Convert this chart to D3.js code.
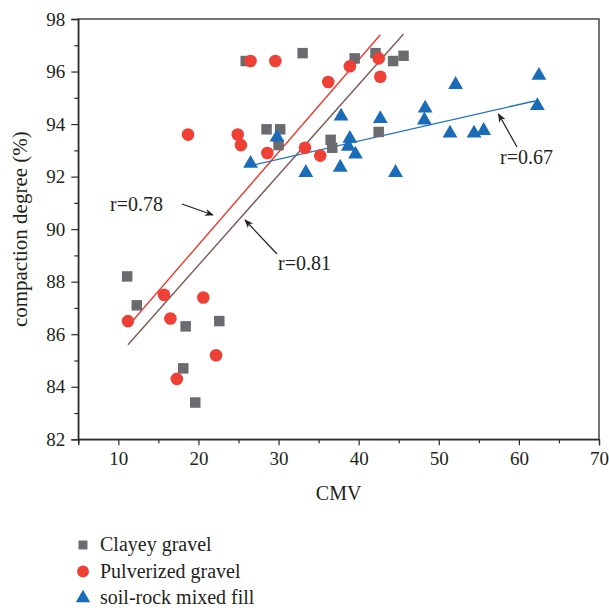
<!DOCTYPE html>
<html>
<head>
<meta charset="utf-8">
<script src="https://d3js.org/d3.v7.min.js"></script>
<style>
  html, body { margin: 0; padding: 0; background: #fff; }
  svg { display: block; font-family: "Liberation Serif", "Times New Roman", serif; }
</style>
</head>
<body>
<svg id="chart" width="609" height="610"></svg>
<script>
// ---- data ----
const seriesNames = ["Clayey gravel", "Pulverized gravel", "soil-rock mixed fill"];

const clayeyX = [11.1, 12.3, 18.4, 18.1, 19.6, 22.6, 25.9, 33.0, 28.5, 30.2, 30.0, 36.5, 36.7, 42.5, 39.5, 42.1, 44.3, 45.6];
const clayeyY = [88.2, 87.1, 86.3, 84.7, 83.4, 86.5, 96.4, 96.7, 93.8, 93.8, 93.2, 93.4, 93.1, 93.7, 96.5, 96.7, 96.4, 96.6];

const pulvX = [11.2, 15.7, 16.5, 20.6, 17.3, 22.2, 18.7, 24.9, 25.3, 28.6, 26.5, 29.6, 36.2, 38.9, 42.5, 42.7, 33.3, 35.2];
const pulvY = [86.5, 87.5, 86.6, 87.4, 84.3, 85.2, 93.6, 93.6, 93.2, 92.9, 96.4, 96.4, 95.6, 96.2, 96.5, 95.8, 93.1, 92.8];

const soilX = [26.5, 29.8, 33.4, 37.8, 37.7, 38.9, 38.7, 39.6, 42.7, 44.6, 48.3, 48.2, 52.1, 51.4, 54.4, 55.6, 62.5, 62.3];
const soilY = [92.5, 93.5, 92.15, 94.3, 92.35, 93.45, 93.15, 92.85, 94.2, 92.15, 94.6, 94.15, 95.5, 93.65, 93.65, 93.75, 95.85, 94.7];

// fitted lines (endpoints, data units)
const fitPulvX = [11.9, 42.7];
const fitPulvY = [86.55, 97.4];
const fitAllX = [11.2, 45.6];
const fitAllY = [85.6, 97.43];
const fitSoilX = [26.85, 62.0];
const fitSoilY = [92.44, 94.88];

const rLabels = ["r=0.78", "r=0.81", "r=0.67"];

const xTicks = [10, 20, 30, 40, 50, 60, 70];
const yTicks = [82, 84, 86, 88, 90, 92, 94, 96, 98];

// ---- layout ----
const svg = d3.select("#chart");
const L = 78.3, R = 599, T = 19, B = 439.3;
const x = d3.scaleLinear().domain([5, 70]).range([L, R]);
const y = d3.scaleLinear().domain([82, 98]).range([B, T]);

const axisColor = "#2b2b2b";
const fontSize = 19;

// frame
svg.append("rect").attr("x", L).attr("y", T).attr("width", R - L).attr("height", B - T)
  .attr("fill", "none").attr("stroke", axisColor).attr("stroke-width", 1.3);

// x axis
svg.append("g").attr("transform", `translate(0,${B})`)
  .call(d3.axisBottom(x).tickValues(xTicks).tickSize(6).tickPadding(6).tickFormat(d3.format("d")));
svg.append("g").attr("transform", `translate(0,${B})`)
  .call(d3.axisBottom(x).tickValues(d3.range(5, 70, 10)).tickSize(4).tickFormat(""))
  .call(g => g.select(".domain").remove());

// y axis
svg.append("g").attr("transform", `translate(${L},0)`)
  .call(d3.axisLeft(y).tickValues(yTicks).tickSize(7).tickPadding(6).tickFormat(d3.format("d")));
svg.append("g").attr("transform", `translate(${L},0)`)
  .call(d3.axisLeft(y).tickValues(d3.range(83, 98, 2)).tickSize(4).tickFormat(""))
  .call(g => g.select(".domain").remove());

svg.selectAll(".domain").attr("stroke", axisColor).attr("stroke-width", 1.3);
svg.selectAll(".tick line").attr("stroke", axisColor).attr("stroke-width", 1.2);
svg.selectAll(".tick text").attr("fill", "#231f20").style("font-size", fontSize + "px")
  .style("font-family", '"Liberation Serif", serif');

// axis titles
svg.append("text").attr("x", (L + R) / 2).attr("y", 500).attr("text-anchor", "middle")
  .attr("fill", "#231f20").style("font-size", "20px").text("CMV");
svg.append("text").attr("transform", `translate(27,${(T + B) / 2}) rotate(-90)`)
  .attr("text-anchor", "middle").attr("fill", "#231f20").style("font-size", "21px")
  .text("compaction degree (%)");

// fit lines
const lineGen = d3.line().x(d => x(d[0])).y(d => y(d[1]));
const fits = [
  { xs: fitPulvX, ys: fitPulvY, color: "#ec3b30" },
  { xs: fitAllX, ys: fitAllY, color: "#7b5a55" },
  { xs: fitSoilX, ys: fitSoilY, color: "#1f72c0" }
];
fits.forEach(f => {
  svg.append("path").datum(d3.zip(f.xs, f.ys)).attr("d", lineGen)
    .attr("fill", "none").attr("stroke", f.color).attr("stroke-width", 1.4);
});

// markers
const colors = ["#6b6b6f", "#ee4035", "#1a6cb7"];
const sq = d3.symbol().type(d3.symbolSquare).size(110);
const ci = d3.symbol().type(d3.symbolCircle).size(125);
const tr = d3.symbol().type(d3.symbolTriangle).size(95);

const groups = [
  { xs: clayeyX, ys: clayeyY, sym: sq, color: colors[0] },
  { xs: pulvX, ys: pulvY, sym: ci, color: colors[1] },
  { xs: soilX, ys: soilY, sym: tr, color: colors[2] }
];
groups.forEach(g => {
  svg.append("g").selectAll("path").data(d3.zip(g.xs, g.ys)).join("path")
    .attr("d", g.sym)
    .attr("transform", d => `translate(${x(d[0])},${y(d[1])})`)
    .attr("fill", g.color);
});

// annotations
const defs = svg.append("defs");
defs.append("marker").attr("id", "ah").attr("viewBox", "0 0 10 10")
  .attr("refX", 9).attr("refY", 5).attr("markerWidth", 9).attr("markerHeight", 9)
  .attr("markerUnits", "userSpaceOnUse").attr("orient", "auto")
  .append("path").attr("d", "M0,1 L10,5 L0,9 L3,5 Z").attr("fill", "#231f20");

const annotations = [
  { text: rLabels[0], tx: 110, ty: 211, ax1: 182, ay1: 204, ax2: 213, ay2: 215 },
  { text: rLabels[1], tx: 278, ty: 270, ax1: 277, ay1: 254, ax2: 245, ay2: 220 },
  { text: rLabels[2], tx: 500, ty: 164, ax1: 517, ay1: 147, ax2: 498.5, ay2: 114 }
];
annotations.forEach(a => {
  svg.append("text").attr("x", a.tx).attr("y", a.ty).attr("fill", "#231f20")
    .style("font-size", "20px").text(a.text);
  svg.append("line").attr("x1", a.ax1).attr("y1", a.ay1).attr("x2", a.ax2).attr("y2", a.ay2)
    .attr("stroke", "#231f20").attr("stroke-width", 1.2).attr("marker-end", "url(#ah)");
});

// legend
const legendSyms = [
  d3.symbol().type(d3.symbolSquare).size(80),
  d3.symbol().type(d3.symbolCircle).size(110),
  d3.symbol().type(d3.symbolTriangle).size(90)
];
seriesNames.forEach((name, i) => {
  const cy = 545 + i * 26.5;
  svg.append("path").attr("d", legendSyms[i]).attr("transform", `translate(83,${cy})`)
    .attr("fill", colors[i]);
  svg.append("text").attr("x", 100).attr("y", cy + 6).attr("fill", "#231f20")
    .style("font-size", "20px").text(name);
});
</script>
</body>
</html>
